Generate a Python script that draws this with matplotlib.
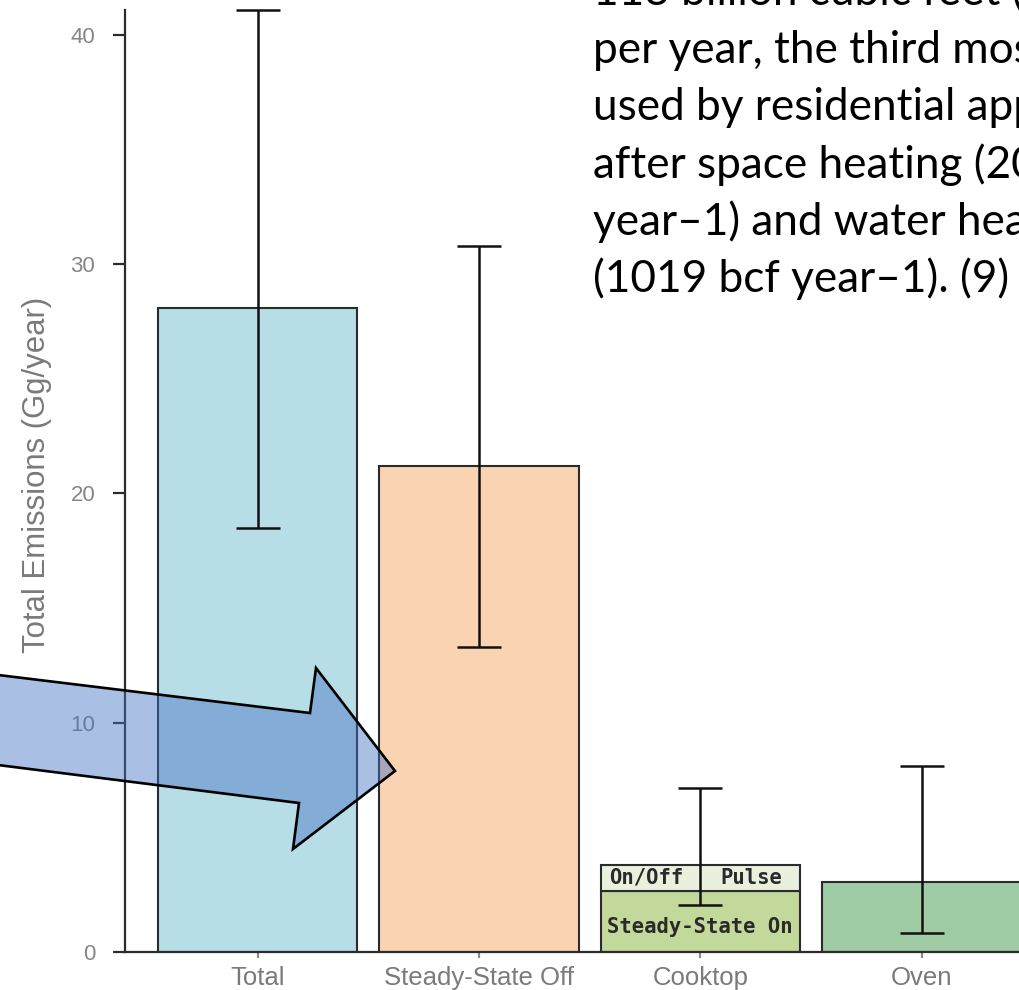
import matplotlib
matplotlib.use("Agg")
import matplotlib.pyplot as plt
from matplotlib.patches import Polygon
import numpy as np

# Emission estimates (Gg/year)
categories = ["Total", "Steady-State Off", "Cooktop", "Oven"]
base_values = [28.1, 21.2, 2.65, 3.05]
pulse_values = [0.0, 0.0, 1.15, 0.0]          # on/off pulse stacked on the cooktop
ci_low = [18.5, 13.3, 2.05, 0.8]
ci_high = [41.1, 30.8, 7.15, 8.1]
bar_colors = ["#B7DDE6", "#FAD3B3", "#C3D89B", "#9FCBA5"]
pulse_color = "#E9F0DE"
y_ticks = [0, 10, 20, 30, 40]

note_lines = [
    "113 billion cubic feet (bcf)",
    "per year, the third most",
    "used by residential appliances",
    "after space heating (2000 bcf",
    "year\u20131) and water heating",
    "(1019 bcf year\u20131). (9)",
]

W, H = 1020, 990
fig = plt.figure(figsize=(W / 100, H / 100), dpi=100)
fig.patch.set_facecolor("white")

ax = fig.add_axes([125 / W, 1 - 951.7 / H, 1 - 125 / W, (951.7 - 10) / H])
x = np.arange(len(categories))
width = 0.9
spine_col = "#2b2b2b"

totals = np.array(base_values) + np.array(pulse_values)
ax.bar(x, base_values, width=width, color=bar_colors, edgecolor=spine_col,
       linewidth=1.5, zorder=2)
ax.bar(x[2], pulse_values[2], bottom=base_values[2], width=width,
       color=pulse_color, edgecolor=spine_col, linewidth=1.5, zorder=2)

yerr = np.array([totals - np.array(ci_low), np.array(ci_high) - totals])
ax.errorbar(x, totals, yerr=yerr, fmt="none", ecolor="#111111",
            elinewidth=1.8, capsize=16, capthick=1.8, zorder=3, clip_on=False)

# Labels inside the stacked cooktop bar
mono = dict(family="DejaVu Sans Mono", fontweight="bold", color="#2a2a2a",
            fontsize=14.8)
ax.text(x[2] - 0.41, base_values[2] + pulse_values[2] / 2, "On/Off",
        ha="left", va="center", zorder=4, **mono)
ax.text(x[2] + 0.37, base_values[2] + pulse_values[2] / 2, "Pulse",
        ha="right", va="center", zorder=4, **mono)
ax.text(x[2], base_values[2] * 0.4, "Steady-State On",
        ha="center", va="center", zorder=4, **mono)

ax.set_xlim(-0.6, 3.445)
ax.set_ylim(0, 41.1)
ax.set_yticks(y_ticks)
ax.set_xticks(x)
ax.set_xticklabels(categories)
for s in ["top", "right"]:
    ax.spines[s].set_visible(False)
for s in ["left", "bottom"]:
    ax.spines[s].set_linewidth(1.6)
    ax.spines[s].set_color(spine_col)
ax.tick_params(axis="y", length=8.5, width=1.6, color=spine_col, pad=13,
               labelsize=16, labelcolor="#858585")
ax.tick_params(axis="x", length=4, width=1.6, color="#8a8a8a", pad=6,
               labelsize=18.5, labelcolor="#7a7a7a")
for lab in ax.get_xticklabels() + ax.get_yticklabels():
    lab.set_family("Liberation Sans")

fig.text(37 / W, 1 - 475 / H, "Total Emissions (Gg/year)", rotation=90,
         ha="center", va="center", fontsize=22.4, color="#7a7a7a",
         family="Liberation Sans")

# Highlight arrow pointing at the steady-state-off bar
pts_px = [(-10, 674), (310, 713), (316, 668), (395, 771), (293, 849),
          (299, 803), (-10, 764)]
pts = [(px / W, 1 - py / H) for px, py in pts_px]
arrow = Polygon(pts, closed=True, transform=fig.transFigure,
                facecolor=(0x44 / 255, 0x72 / 255, 0xC4 / 255, 0.45),
                edgecolor="black", linewidth=1.9, joinstyle="miter", zorder=10)
fig.patches.append(arrow)

# Slide text block
for i, line in enumerate(note_lines):
    baseline = 5.7 + 57.3 * i
    fig.text(593 / W, 1 - baseline / H, line, ha="left", va="baseline",
             fontsize=31.8, color="black", family="Lato", zorder=11)

fig.savefig("out.png", dpi=100, facecolor="white")
